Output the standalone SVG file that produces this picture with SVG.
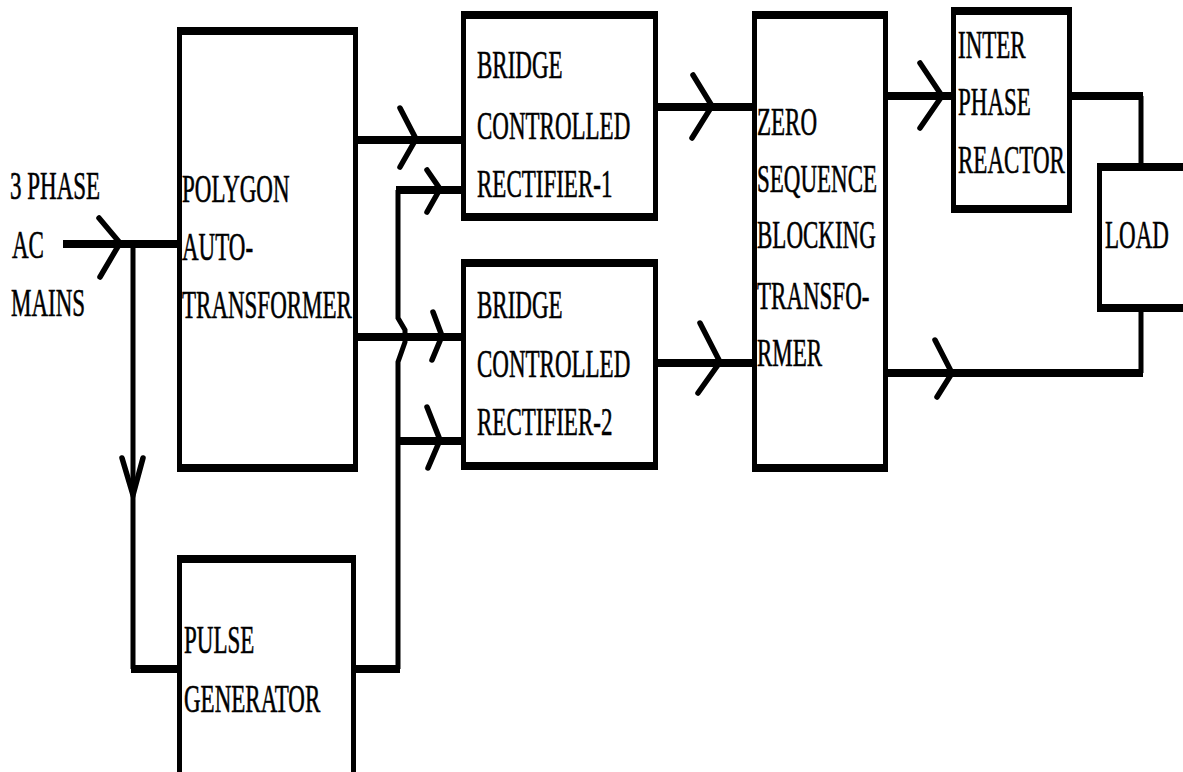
<svg xmlns="http://www.w3.org/2000/svg" width="1183" height="772" viewBox="0 0 1183 772">
<style>
.frame{fill:#000}
.inner{fill:#fff}
.h{stroke:#000;stroke-width:8;fill:none}
.v{stroke:#000;stroke-width:5;fill:none}
.chev{stroke:#000;stroke-width:5.5;fill:none;stroke-linejoin:miter;stroke-linecap:round}
text{font-family:"Liberation Serif","Times New Roman",serif;font-size:23px;fill:#000;stroke:#000;stroke-width:0.35}
</style>
<rect width="1183" height="772" fill="#fff"/>
<g id="connectors">
<path class="h" d="M63,244 H180"/>
<path class="v" d="M133,244 V669"/>
<path class="h" d="M131,669 H180"/>
<path class="h" d="M353,669 H400"/>
<path class="v" d="M398,669 V362 L405,342 L405,330 L398,318 V190"/>
<path class="h" d="M396,441 H463"/>
<path class="h" d="M396,190 H463"/>
<path class="h" d="M356,140 H463"/>
<path class="h" d="M356,337 H463"/>
<path class="h" d="M655,107 H754"/>
<path class="h" d="M655,363 H754"/>
<path class="h" d="M886,96 H953"/>
<path class="h" d="M1070,96 H1143"/>
<path class="v" d="M1141,96 V165"/>
<path class="v" d="M1141,310 V373"/>
<path class="h" d="M886,373 H1143"/>
<polyline class="chev" points="99,218 120,243 100,277"/>
<polyline class="chev" points="122,458 133,495 143,458"/>
<polyline class="chev" points="400,108 416,139 400,167"/>
<polyline class="chev" points="427,170 440,189 427,212"/>
<polyline class="chev" points="433,312 442,336 432,360"/>
<polyline class="chev" points="427,407 440,440 428,468"/>
<polyline class="chev" points="693,75 712,106 692,138"/>
<polyline class="chev" points="700,323 720,362 698,393"/>
<polyline class="chev" points="920,63 942,96 920,128"/>
<polyline class="chev" points="935,340 952,373 937,397"/>
</g>
<g id="input-label">
<text transform="translate(10 199) scale(1 1.75)">3 PHASE</text>
<text transform="translate(12 258) scale(1 1.75)">AC</text>
<text transform="translate(11 316) scale(1 1.75)">MAINS</text>
</g>
<g id="polygon">
<rect class="frame" x="177" y="27" width="181" height="445"/>
<rect class="inner" x="182" y="35" width="171" height="429"/>
<text transform="translate(182 202) scale(1 1.75)">POLYGON</text>
<text transform="translate(182 260) scale(1 1.75)">AUTO-</text>
<text transform="translate(182 318) scale(1 1.75)">TRANSFORMER</text>
</g>
<g id="rectifier1">
<rect class="frame" x="461" y="11" width="197" height="210"/>
<rect class="inner" x="466" y="19" width="187" height="194"/>
<text transform="translate(477 78) scale(1 1.75)">BRIDGE</text>
<text transform="translate(477 139) scale(1 1.75)">CONTROLLED</text>
<text transform="translate(477 197) scale(1 1.75)">RECTIFIER-1</text>
</g>
<g id="rectifier2">
<rect class="frame" x="461" y="259" width="197" height="211"/>
<rect class="inner" x="466" y="267" width="187" height="195"/>
<text transform="translate(477 318) scale(1 1.75)">BRIDGE</text>
<text transform="translate(477 377) scale(1 1.75)">CONTROLLED</text>
<text transform="translate(477 435) scale(1 1.75)">RECTIFIER-2</text>
</g>
<g id="zsbt">
<rect class="frame" x="752" y="11" width="136" height="461"/>
<rect class="inner" x="757" y="19" width="126" height="445"/>
<text transform="translate(757 135) scale(1 1.75)">ZERO</text>
<text transform="translate(757 192) scale(1 1.75)">SEQUENCE</text>
<text transform="translate(757 248) scale(1 1.75)">BLOCKING</text>
<text transform="translate(757 309) scale(1 1.75)">TRANSFO-</text>
<text transform="translate(757 366) scale(1 1.75)">RMER</text>
</g>
<g id="ipr">
<rect class="frame" x="951" y="7" width="121" height="206"/>
<rect class="inner" x="956" y="15" width="111" height="190"/>
<text transform="translate(958 58) scale(1 1.75)">INTER</text>
<text transform="translate(958 115) scale(1 1.75)">PHASE</text>
<text transform="translate(958 173) scale(1 1.75)">REACTOR</text>
</g>
<g id="load">
<rect class="frame" x="1097" y="163" width="100" height="149"/>
<rect class="inner" x="1102" y="171" width="95" height="133"/>
<text transform="translate(1105 248) scale(1 1.75)">LOAD</text>
</g>
<g id="pulse">
<rect class="frame" x="177" y="555" width="179" height="230"/>
<rect class="inner" x="182" y="563" width="169" height="222"/>
<text transform="translate(184 653) scale(1 1.75)">PULSE</text>
<text transform="translate(184 712) scale(1 1.75)">GENERATOR</text>
</g>
</svg>
